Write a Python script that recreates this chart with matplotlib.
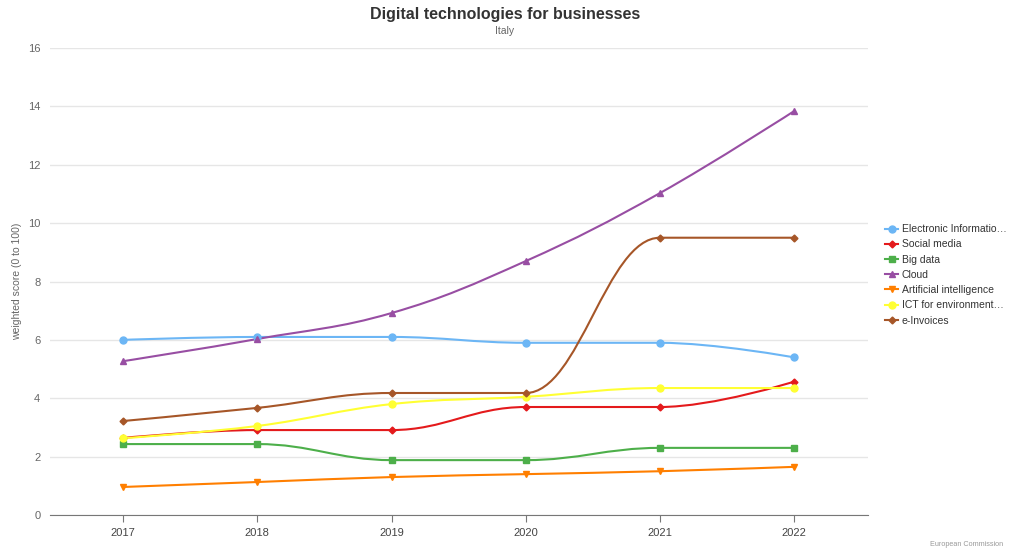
"""Digital technologies for businesses - Italy (Highcharts-style spline chart)."""

import matplotlib

matplotlib.use("Agg")
import matplotlib.pyplot as plt
from matplotlib.path import Path
from matplotlib.patches import PathPatch

plt.rcParams["font.family"] = ["Liberation Sans", "DejaVu Sans"]

YEARS = [2017, 2018, 2019, 2020, 2021, 2022]

SERIES_NAMES = [
    "Electronic Informatio\u2026",
    "Social media",
    "Big data",
    "Cloud",
    "Artificial intelligence",
    "ICT for environment\u2026",
    "e-Invoices",
]
ELECTRONIC_INFO = [6.0, 6.1, 6.1, 5.9, 5.9, 5.4]
SOCIAL_MEDIA = [2.64, 2.91, 2.91, 3.7, 3.7, 4.57]
BIG_DATA = [2.43, 2.43, 1.88, 1.88, 2.3, 2.3]
CLOUD = [5.27, 6.03, 6.92, 8.7, 11.03, 13.84]
ARTIFICIAL_INTELLIGENCE = [0.96, 1.13, 1.3, 1.4, 1.5, 1.65]
ICT_ENVIRONMENT = [2.63, 3.05, 3.8, 4.05, 4.35, 4.35]
E_INVOICES = [3.22, 3.67, 4.18, 4.18, 9.5, 9.5]

VALUES = [ELECTRONIC_INFO, SOCIAL_MEDIA, BIG_DATA, CLOUD,
          ARTIFICIAL_INTELLIGENCE, ICT_ENVIRONMENT, E_INVOICES]
COLORS = ["#6cb6f5", "#e41a1c", "#4daf4a", "#984ea3", "#ff7f00", "#ffff33", "#a65628"]
MARKERS = ["o", "D", "s", "^", "v", "o", "D"]
MSIZES = [5, 3.5, 5, 5, 5, 5, 3.5]


def spline_path(xs, ys, smoothing=1.5):
    """Bezier path through the points, same control-point rule as Highcharts."""
    denom = smoothing + 1
    n = len(xs)
    right = [None] * n
    left = [None] * n
    for i in range(1, n - 1):
        x, y = xs[i], ys[i]
        lx, ly, nx, ny = xs[i - 1], ys[i - 1], xs[i + 1], ys[i + 1]
        lcx = (smoothing * x + lx) / denom
        lcy = (smoothing * y + ly) / denom
        rcx = (smoothing * x + nx) / denom
        rcy = (smoothing * y + ny) / denom
        corr = 0.0
        if rcx != lcx:
            corr = (rcy - lcy) * (rcx - x) / (rcx - lcx) + y - rcy
        lcy += corr
        rcy += corr
        if lcy > ly and lcy > y:
            lcy = max(ly, y)
            rcy = 2 * y - lcy
        elif lcy < ly and lcy < y:
            lcy = min(ly, y)
            rcy = 2 * y - lcy
        if rcy > ny and rcy > y:
            rcy = max(ny, y)
            lcy = 2 * y - rcy
        elif rcy < ny and rcy < y:
            rcy = min(ny, y)
            lcy = 2 * y - rcy
        left[i] = (lcx, lcy)
        right[i] = (rcx, rcy)
    verts = [(xs[0], ys[0])]
    codes = [Path.MOVETO]
    for i in range(1, n):
        c1 = right[i - 1] or (xs[i - 1], ys[i - 1])
        c2 = left[i] or (xs[i], ys[i])
        verts += [c1, c2, (xs[i], ys[i])]
        codes += [Path.CURVE4] * 3
    return Path(verts, codes)


fig = plt.figure(figsize=(10.10, 5.51), dpi=100)
ax = fig.add_axes([50 / 1010, 36 / 551, 818 / 1010, 467 / 551])

for name, vals, color, marker, ms in zip(SERIES_NAMES, VALUES, COLORS, MARKERS, MSIZES):
    ax.add_patch(PathPatch(spline_path(YEARS, vals), fill=False,
                           edgecolor=color, linewidth=1.5, zorder=3))
    ax.plot(YEARS, vals, linestyle="none", marker=marker, markersize=ms,
            color=color, zorder=4)
    # legend proxy
    ax.plot([], [], color=color, marker=marker, markersize=ms,
            linewidth=1.5, label=name)

ax.set_xlim(2016.455, 2022.55)
ax.set_ylim(0, 16)
ax.set_yticks(range(0, 17, 2))
ax.set_xticks(YEARS)
ax.grid(axis="y", color="#e6e6e6", linewidth=1)
ax.set_axisbelow(True)
for side in ("top", "right", "left"):
    ax.spines[side].set_visible(False)
ax.spines["bottom"].set_color("#777777")
ax.tick_params(axis="y", length=0, labelsize=8, colors="#666666", pad=7)
ax.tick_params(axis="x", length=5, color="#777777", labelsize=8,
               labelcolor="#444444", pad=4)
ax.set_ylabel("weighted score (0 to 100)", fontsize=7.5, color="#666666", labelpad=4)

fig.text(0.5, 1 - 14 / 551, "Digital technologies for businesses", ha="center",
         va="center", fontsize=11.5, fontweight="bold", color="#333333")
fig.text(0.5, 1 - 31 / 551, "Italy", ha="center", va="center",
         fontsize=7.5, color="#666666")
fig.text(1 - 7 / 1010, 1 - 545 / 551, "European Commission", ha="right",
         va="center", fontsize=5.2, color="#999999")

fig.legend(loc="upper left", bbox_to_anchor=(878 / 1010, 1 - 217 / 551),
           frameon=False, fontsize=7.5, handlelength=1.25, labelspacing=0.5,
           handletextpad=0.35, labelcolor="#333333", borderpad=0.2)

fig.savefig("out.png", dpi=100)
